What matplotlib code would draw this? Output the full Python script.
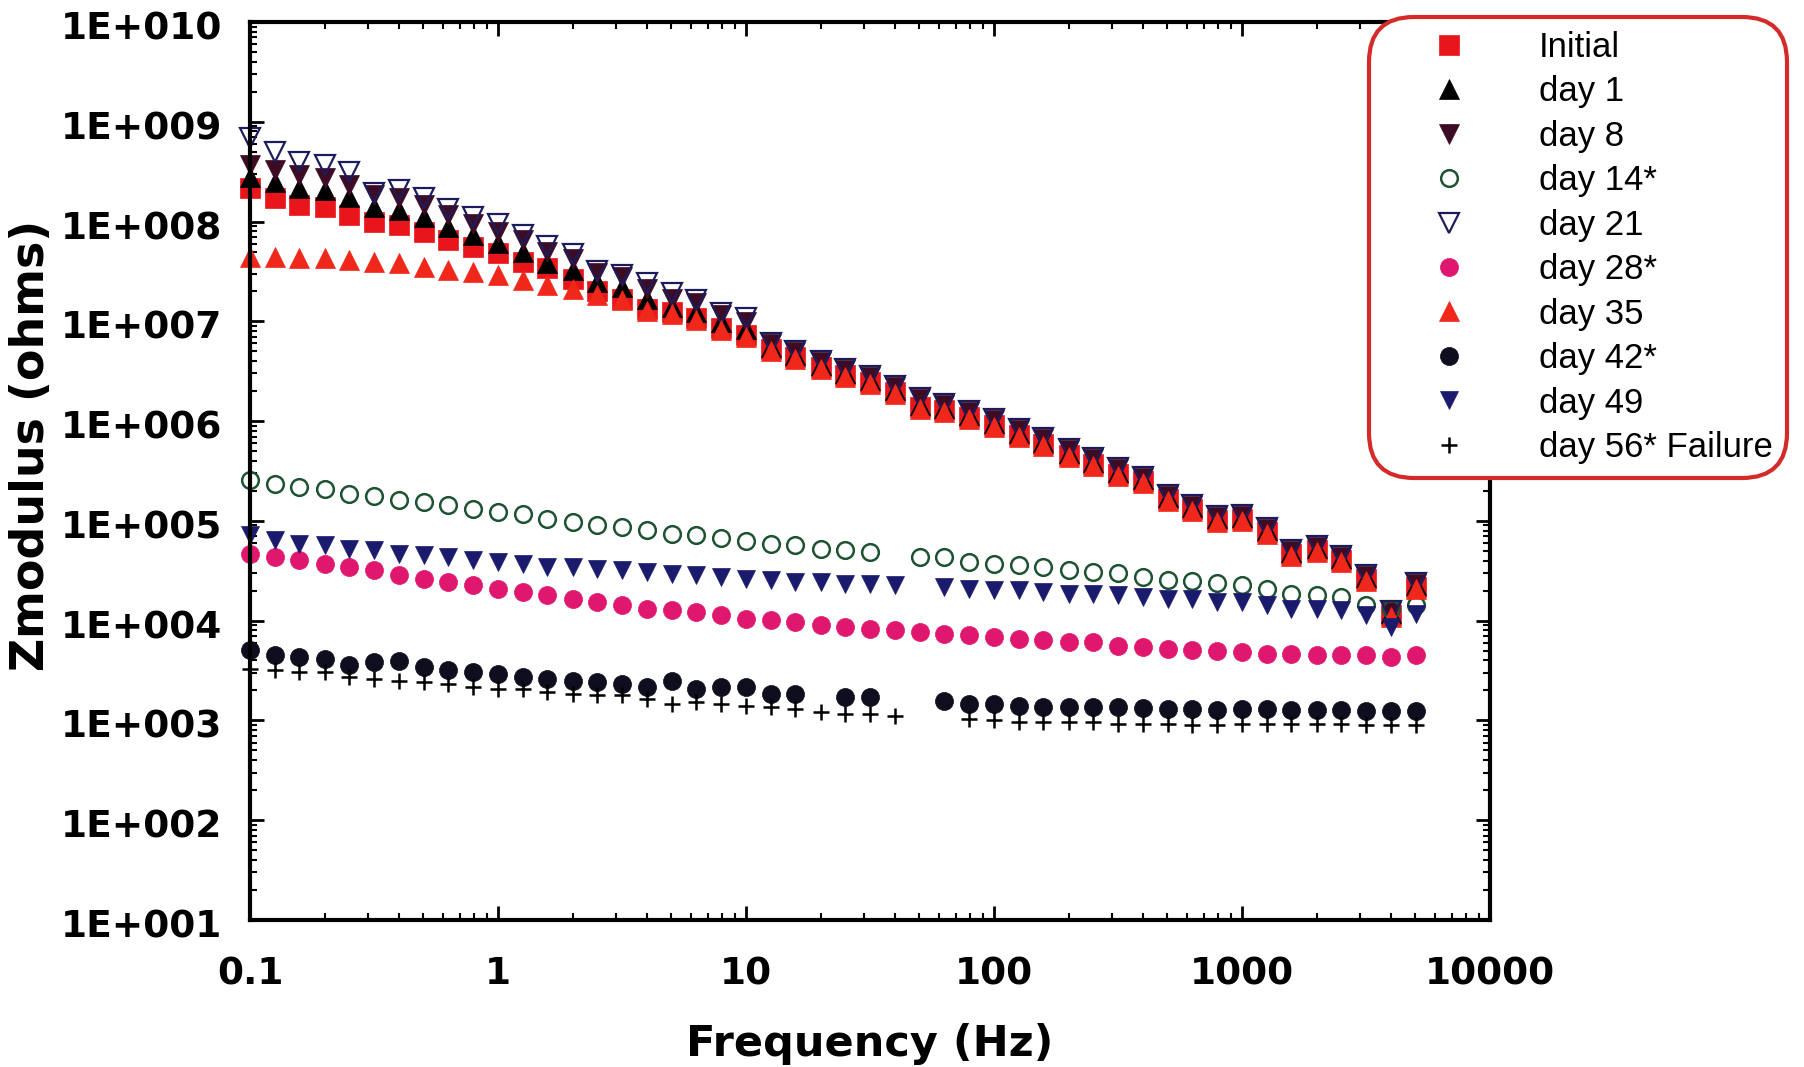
"""
|Z| vs frequency for the coated sample over the 56-day immersion.
Bode-modulus plot, log-log, one marker style per inspection day.
Output: out.png
"""

import numpy as np
import matplotlib
matplotlib.use("Agg")
import matplotlib.pyplot as plt
from matplotlib.ticker import LogLocator, FuncFormatter, NullFormatter
from matplotlib.transforms import ScaledTranslation
from matplotlib.font_manager import FontProperties

nan = np.nan

# ── data ─────────────────────────────────────────────────────────────────────
freq_hz = [0.1, 0.126, 0.158, 0.2, 0.251, 0.316, 0.398, 0.501, 0.631, 0.794,
           1.0, 1.26, 1.58, 2.0, 2.51, 3.16, 3.98, 5.01, 6.31, 7.94,
           10, 12.6, 15.8, 20, 25.1, 31.6, 39.8, 50.1, 63.1, 79.4,
           100, 126, 158, 200, 251, 316, 398, 501, 631, 794,
           1000, 1260, 1580, 2000, 2510, 3160, 3980, 5010]

z_initial = [2.15e8, 1.71e8, 1.46e8, 1.41e8, 1.16e8, 9.93e7, 9.20e7, 7.89e7, 6.50e7, 5.57e7,
             4.79e7, 3.94e7, 3.39e7, 2.63e7, 2.00e7, 1.69e7, 1.34e7, 1.24e7, 1.07e7, 8.61e6,
             7.26e6, 5.33e6, 4.40e6, 3.49e6, 2.88e6, 2.47e6, 1.96e6, 1.39e6, 1.28e6, 1.10e6,
             9.08e5, 7.21e5, 5.94e5, 4.54e5, 3.75e5, 2.97e5, 2.51e5, 1.64e5, 1.32e5, 1.03e5,
             1.05e5, 7.73e4, 4.69e4, 5.06e4, 4.02e4, 2.63e4, 1.13e4, 2.17e4]

z_day1 = [2.82e8, 2.51e8, 2.19e8, 2.07e8, 1.78e8, 1.41e8, 1.30e8, 1.11e8, 8.85e7, 7.29e7,
          6.03e7, 4.97e7, 3.85e7, 3.26e7, 2.48e7, 2.21e7, 1.69e7, 1.40e7, 1.24e7, 9.86e6,
          8.47e6, 5.58e6, 4.61e6, 3.65e6, 3.02e6, 2.59e6, 2.05e6, 1.46e6, 1.34e6, 1.15e6,
          9.51e5, 7.55e5, 6.22e5, 4.75e5, 3.93e5, 3.11e5, 2.63e5, 1.72e5, 1.38e5, 1.08e5,
          1.10e5, 8.09e4, 4.91e4, 5.30e4, 4.21e4, 2.75e4, 1.18e4, 2.27e4]

z_day8 = [3.68e8, 3.28e8, 2.92e8, 2.70e8, 2.32e8, 1.84e8, 1.71e8, 1.46e8, 1.16e8, 9.55e7,
          7.89e7, 6.50e7, 4.97e7, 4.17e7, 3.02e7, 2.79e7, 2.13e7, 1.69e7, 1.51e7, 1.15e7,
          9.86e6, 5.98e6, 4.93e6, 3.92e6, 3.23e6, 2.77e6, 2.20e6, 1.66e6, 1.44e6, 1.23e6,
          1.02e6, 8.09e5, 6.67e5, 5.09e5, 4.21e5, 3.33e5, 2.69e5, 1.76e5, 1.42e5, 1.10e5,
          1.12e5, 8.28e4, 5.02e4, 5.42e4, 4.31e4, 2.82e4, 1.21e4, 2.32e4]

z_day14 = [2.55e5, 2.36e5, 2.18e5, 2.10e5, 1.87e5, 1.76e5, 1.61e5, 1.55e5, 1.43e5, 1.32e5,
           1.23e5, 1.18e5, 1.05e5, 9.72e4, 9.02e4, 8.67e4, 8.04e4, 7.45e4, 7.16e4, 6.76e4,
           6.27e4, 5.90e4, 5.68e4, 5.26e4, 5.06e4, 4.86e4, nan, 4.34e4, 4.34e4, 3.86e4,
           3.72e4, 3.58e4, 3.44e4, 3.19e4, 3.07e4, 3.01e4, 2.74e4, 2.57e4, 2.48e4, 2.39e4,
           2.25e4, 2.09e4, 1.86e4, 1.79e4, 1.73e4, 1.42e4, 1.32e4, 1.42e4]

z_day21 = [6.92e8, 5.01e8, 3.98e8, 3.68e8, 3.16e8, 1.91e8, 2.07e8, 1.71e8, 1.35e8, 1.11e8,
           9.42e7, 7.29e7, 5.70e7, 4.71e7, 3.16e7, 2.88e7, 2.43e7, 1.90e7, 1.65e7, 1.20e7,
           1.07e7, 6.12e6, 5.04e6, 4.01e6, 3.30e6, 2.83e6, 2.25e6, 1.70e6, 1.47e6, 1.26e6,
           1.04e6, 8.28e5, 6.82e5, 5.21e5, 4.31e5, 3.41e5, 2.75e5, 1.80e5, 1.45e5, 1.13e5,
           1.15e5, 8.47e4, 5.14e4, 5.54e4, 4.41e4, 2.88e4, 1.24e4, 2.37e4]

z_day28 = [4.69e4, 4.34e4, 4.02e4, 3.72e4, 3.44e4, 3.19e4, 2.84e4, 2.63e4, 2.44e4, 2.25e4,
           2.09e4, 1.93e4, 1.79e4, 1.66e4, 1.53e4, 1.42e4, 1.32e4, 1.27e4, 1.22e4, 1.13e4,
           1.04e4, 1.01e4, 9.66e3, 8.95e3, 8.61e3, 8.30e3, 7.98e3, 7.67e3, 7.40e3, 7.11e3,
           6.84e3, 6.59e3, 6.34e3, 6.10e3, 6.10e3, 5.62e3, 5.50e3, 5.25e3, 5.13e3, 5.01e3,
           4.84e3, 4.67e3, 4.67e3, 4.49e3, 4.49e3, 4.49e3, 4.32e3, 4.49e3]

z_day35 = [4.43e7, 4.43e7, 4.27e7, 4.27e7, 4.10e7, 3.94e7, 3.80e7, 3.52e7, 3.26e7, 3.13e7,
           2.90e7, 2.58e7, 2.30e7, 2.13e7, 1.83e7, 1.63e7, 1.28e7, 1.19e7, 1.02e7, 8.22e6,
           6.93e6, 5.09e6, 4.20e6, 3.33e6, 2.75e6, 2.36e6, 1.87e6, 1.32e6, 1.22e6, 1.05e6,
           8.67e5, 6.89e5, 5.68e5, 4.34e5, 3.58e5, 2.84e5, 2.40e5, 1.57e5, 1.26e5, 9.84e4,
           1.00e5, 7.38e4, 4.48e4, 4.83e4, 3.84e4, 2.51e4, 1.08e4, 2.07e4]

z_day42 = [5.04e3, 4.49e3, 4.32e3, 4.16e3, 3.56e3, 3.85e3, 3.98e3, 3.43e3, 3.17e3, 3.05e3,
           2.94e3, 2.72e3, 2.62e3, 2.51e3, 2.42e3, 2.33e3, 2.16e3, 2.51e3, 2.07e3, 2.16e3,
           2.16e3, 1.85e3, 1.85e3, nan, 1.71e3, 1.71e3, nan, nan, 1.58e3, 1.47e3,
           1.47e3, 1.41e3, 1.36e3, 1.36e3, 1.36e3, 1.35e3, 1.32e3, 1.29e3, 1.29e3, 1.26e3,
           1.31e3, 1.29e3, 1.26e3, 1.26e3, 1.26e3, 1.23e3, 1.23e3, 1.23e3]

z_day49 = [7.16e4, 6.38e4, 5.90e4, 5.68e4, 5.26e4, 5.06e4, 4.69e4, 4.51e4, 4.34e4, 4.02e4,
           3.86e4, 3.72e4, 3.44e4, 3.44e4, 3.32e4, 3.24e4, 3.07e4, 2.95e4, 2.90e4, 2.74e4,
           2.63e4, 2.53e4, 2.44e4, 2.44e4, 2.34e4, 2.34e4, 2.25e4, nan, 2.17e4, 2.09e4,
           2.01e4, 2.01e4, 1.93e4, 1.86e4, 1.86e4, 1.82e4, 1.73e4, 1.66e4, 1.66e4, 1.53e4,
           1.53e4, 1.42e4, 1.32e4, 1.32e4, 1.27e4, 1.13e4, 8.61e3, 1.17e4]

z_day56 = [3.30e3, 3.17e3, 3.05e3, 3.05e3, 2.72e3, 2.62e3, 2.51e3, 2.42e3, 2.33e3, 2.16e3,
           2.07e3, 2.07e3, 1.92e3, 1.85e3, 1.78e3, 1.78e3, 1.65e3, 1.47e3, 1.52e3, 1.47e3,
           1.41e3, 1.36e3, 1.31e3, 1.21e3, 1.16e3, 1.16e3, 1.12e3, nan, nan, 1.04e3,
           1.00e3, 9.62e2, 9.62e2, 9.62e2, 9.62e2, 9.25e2, 9.25e2, 9.25e2, 8.91e2, 8.91e2,
           9.25e2, 9.25e2, 9.25e2, 9.25e2, 9.25e2, 8.91e2, 8.91e2, 8.91e2]

labels = ["Initial", "day 1", "day 8", "day 14*", "day 21", "day 28*",
          "day 35", "day 42*", "day 49", "day 56* Failure"]

# ── marker styles: (data, marker, size, face, edge, edge width) ──────────────
styles = [
    (z_initial, "s", 14, "#e8161b", "#e8161b", 0.5),
    (z_day1,    "^", 14, "black",   "black",   0.5),
    (z_day8,    "v", 14, "#3d0b24", "#3d0b24", 0.5),
    (z_day14,   "o", 12, "none",    "#1d5232", 1.8),
    (z_day21,   "v", 14, "none",    "#1c1c5c", 1.6),
    (z_day28,   "o", 13, "#e0176f", "#e0176f", 0.5),
    (z_day35,   "^", 14, "#f0281c", "#f0281c", 0.5),
    (z_day42,   "o", 13, "#0e0e1e", "#0e0e1e", 0.5),
    (z_day49,   "v", 13, "#1b1b6e", "#1b1b6e", 0.5),
    (z_day56,   "+", 12, "black",   "black",   1.8),
]

# ── figure ───────────────────────────────────────────────────────────────────
fig = plt.figure(figsize=(18.04, 10.67), dpi=100, facecolor="white")
ax = fig.add_axes([0.1386, 0.1378, 0.6874, 0.8416])

for (z, mk, ms, fc, ec, mew), lbl in zip(styles, labels):
    ax.plot(freq_hz, z, linestyle="none", marker=mk, markersize=ms,
            markerfacecolor=fc, markeredgecolor=ec, markeredgewidth=mew,
            label=lbl, clip_on=False)

ax.set_xscale("log")
ax.set_yscale("log")
ax.set_xlim(0.1, 10000)
ax.set_ylim(10, 1e10)

ax.xaxis.set_major_locator(LogLocator(base=10, numticks=12))
ax.xaxis.set_minor_locator(LogLocator(base=10, subs=np.arange(2, 10), numticks=12))
ax.yaxis.set_major_locator(LogLocator(base=10, numticks=12))
ax.yaxis.set_minor_locator(LogLocator(base=10, subs=np.arange(2, 10), numticks=12))
ax.xaxis.set_major_formatter(FuncFormatter(lambda v, p: "%g" % v))
ax.yaxis.set_major_formatter(
    FuncFormatter(lambda v, p: "1E+%03d" % int(round(np.log10(v)))))
ax.xaxis.set_minor_formatter(NullFormatter())
ax.yaxis.set_minor_formatter(NullFormatter())

ax.tick_params(which="both", direction="in", top=True, right=True, colors="black")
ax.tick_params(which="major", length=10, width=2)
ax.tick_params(which="minor", length=5, width=1.5)
ax.tick_params(axis="x", which="major", pad=26)
ax.tick_params(axis="y", which="major", pad=20)

for sp in ax.spines.values():
    sp.set_linewidth(3)

for t in ax.get_xticklabels() + ax.get_yticklabels():
    t.set_fontfamily("DejaVu Sans")
    t.set_fontsize(27)
    t.set_fontweight("bold")
# y labels sit a touch below their ticks in the original
shift = ScaledTranslation(0, -0.035, fig.dpi_scale_trans)
for t in ax.get_yticklabels():
    t.set_transform(t.get_transform() + shift)

ax.set_xlabel("Frequency (Hz)", fontsize=31, fontweight="bold", family="DejaVu Sans")
ax.set_ylabel("Zmodulus (ohms)", fontsize=33, fontweight="bold", family="DejaVu Sans")
ax.xaxis.set_label_coords(0.5, -0.115)
ax.yaxis.set_label_coords(-0.158, 0.528)

# -- legend, rounded red frame overlapping the top-right corner
leg = ax.legend(loc="upper left",
                bbox_to_anchor=(1369 / 1804, 1 - 17 / 1067),
                bbox_transform=fig.transFigure,
                prop=FontProperties(family="Liberation Sans", size=25),
                frameon=True, fancybox=True, framealpha=1,
                facecolor="white", edgecolor="#d42a2a",
                borderpad=0.4, handlelength=3.8, handletextpad=0.7,
                labelspacing=0.33, numpoints=1, borderaxespad=0)
leg.get_frame().set_linewidth(3)
leg.get_frame().set_boxstyle("round,pad=0,rounding_size=1.3")

fig.savefig("out.png", dpi=100, facecolor="white")
